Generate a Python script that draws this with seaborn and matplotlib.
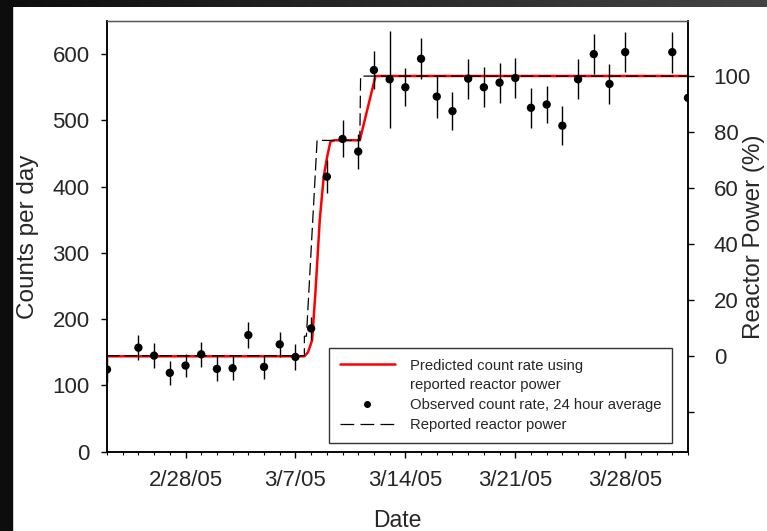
import matplotlib
matplotlib.use("Agg")
import matplotlib.pyplot as plt
import matplotlib.dates as mdates
from matplotlib.lines import Line2D
from matplotlib.patches import Rectangle
from matplotlib.ticker import FuncFormatter
import numpy as np
import pandas as pd
import seaborn as sns

# observed 24 h averages (counts per day) with their error bars
obs_dates = ["2005-02-23", "2005-02-25", "2005-02-26", "2005-02-27", "2005-02-28",
             "2005-03-01", "2005-03-02", "2005-03-03", "2005-03-04", "2005-03-05",
             "2005-03-06", "2005-03-07", "2005-03-08", "2005-03-09", "2005-03-10",
             "2005-03-11", "2005-03-12", "2005-03-13", "2005-03-14", "2005-03-15",
             "2005-03-16", "2005-03-17", "2005-03-18", "2005-03-19", "2005-03-20",
             "2005-03-21", "2005-03-22", "2005-03-23", "2005-03-24", "2005-03-25",
             "2005-03-26", "2005-03-27", "2005-03-28", "2005-03-31", "2005-04-01"]
obs_counts = [124, 157, 145, 119, 130, 147, 125, 126, 176, 128, 162, 143, 186, 415, 472,
              453, 576, 562, 550, 593, 536, 514, 563, 550, 557, 564, 519, 524, 492, 562,
              600, 555, 603, 603, 534]
obs_err = [19, 19, 19, 18, 18, 19, 19, 18, 20, 18, 19, 19, 18, 25, 28,
           27, 29, 73, 29, 31, 32, 29, 30, 30, 30, 30, 30, 28, 29, 30,
           30, 30, 30, 31, 30]

# predicted count rate, days after 2/23/05
pred_day = [0, 12.57, 12.8, 13.06, 13.27, 13.55, 13.8, 14.02, 14.23, 14.5, 16.1, 17.1, 37]
pred_counts = [144, 144, 150, 168, 239, 350, 415, 445, 468, 470, 470, 567, 567]

# reported reactor power (%), days after 2/23/05
power_day = [0, 12.57, 12.57, 12.7, 13.38, 16.1, 16.15, 37]
power_pct = [0, 0, 7, 7, 77, 77, 100, 100]

start = pd.Timestamp("2005-02-23")
obs_x = pd.to_datetime(obs_dates)
pred_x = start + pd.to_timedelta(pred_day, unit="D")
power_x = start + pd.to_timedelta(power_day, unit="D")

sns.set_theme(style="ticks")
plt.rcParams["font.family"] = ["Liberation Sans", "DejaVu Sans"]

fig = plt.figure(figsize=(7.67, 5.31), dpi=100)
fig.patch.set_facecolor("white")
# dark screenshot border
fig.add_artist(Rectangle((0, 0), 12 / 767, 1, transform=fig.transFigure, color="#0d0d0d", zorder=-1))
top = fig.add_axes([0, 1 - 7 / 531, 1, 7 / 531])
top.imshow(np.linspace(0, 1, 256)[None, :], aspect="auto",
           cmap=matplotlib.colors.LinearSegmentedColormap.from_list("g", ["#0d0d0d", "#444444"]))
top.axis("off")

ax = fig.add_axes([107 / 767, 1 - 451.7 / 531, 581 / 767, 430.7 / 531])
ax2 = ax.twinx()

sns.lineplot(x=pred_x, y=pred_counts, ax=ax, color="red", lw=1.8, estimator=None, sort=False)
ax.errorbar(obs_x, obs_counts, yerr=obs_err, fmt="none", ecolor="black", elinewidth=1.0, capsize=0)
sns.scatterplot(x=obs_x, y=obs_counts, ax=ax, color="black", s=36, edgecolor="none", zorder=3)
sns.lineplot(x=power_x, y=power_pct, ax=ax2, color="black", lw=0.9, estimator=None, sort=False)
ax2.lines[-1].set_dashes((10, 4))

ax.set_xlim(start, start + pd.Timedelta(days=37))
ax.set_ylim(0, 650)
ax2.set_ylim(-34.3, 119.7)

ax.xaxis.set_major_locator(mdates.DayLocator(bymonthday=[7, 14, 21, 28]))
ax.xaxis.set_minor_locator(mdates.DayLocator())
ax.xaxis.set_major_formatter(FuncFormatter(lambda v, p: (lambda d: f"{d.month}/{d.day}/{d:%y}")(mdates.num2date(v))))
ax.set_yticks(range(0, 700, 100))
ax2.set_yticks([-20, 0, 20, 40, 60, 80, 100])
ax2.set_yticklabels(["", "0", "20", "40", "60", "80", "100"])

ax.tick_params(axis="x", which="major", direction="out", length=4.5, width=1, labelsize=16, pad=9, color="black")
ax.tick_params(axis="x", which="minor", direction="out", length=2.5, width=0.8, color="black")
ax.tick_params(axis="y", direction="out", length=4.5, width=1, labelsize=16, pad=8, color="black")
ax2.tick_params(axis="y", direction="out", length=4.5, width=1, labelsize=16, pad=14, color="black")

for a in (ax, ax2):
    for side in ("left", "right", "bottom"):
        a.spines[side].set_color("black")
        a.spines[side].set_linewidth(1.1)
    a.spines["top"].set_color("#555555")
    a.spines["top"].set_linewidth(0.9)

ax.set_xlabel("Date", fontsize=16.5)
ax.set_ylabel("Counts per day", fontsize=17.5)
ax2.set_ylabel("Reactor Power (%)", fontsize=17.5)
ax.xaxis.set_label_coords(0.5, -0.132)
ax.yaxis.set_label_coords(-0.117, 0.5)
ax2.yaxis.set_label_coords(1.095, 0.5)

handles = [
    Line2D([], [], color="red", lw=1.8),
    Line2D([], [], color="none"),
    Line2D([], [], color="black", marker="o", ls="none", ms=4),
    Line2D([], [], color="black", lw=0.9, dashes=(11, 5)),
]
labels = ["Predicted count rate using", "reported reactor power",
          "Observed count rate, 24 hour average", "Reported reactor power"]
leg = ax2.legend(handles, labels, loc="lower right", bbox_to_anchor=(0.9725, 0.021),
                 borderaxespad=0, fontsize=10.7, handlelength=3.7, handletextpad=1.0,
                 labelspacing=0.39, borderpad=0.72, frameon=True, fancybox=False, numpoints=1)
leg.get_frame().set_edgecolor("black")
leg.get_frame().set_linewidth(1.0)

fig.savefig("out.png", dpi=100)
